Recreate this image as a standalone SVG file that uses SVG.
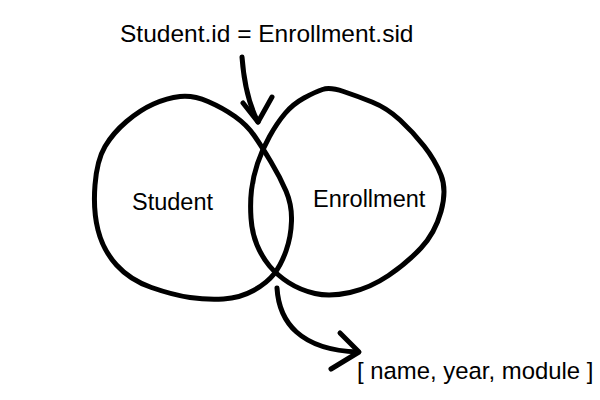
<svg xmlns="http://www.w3.org/2000/svg" width="600" height="400" viewBox="0 0 600 400">
<style>
.ink{fill:none;stroke:#000;stroke-width:5;stroke-linecap:round;stroke-linejoin:round}
.lbl{font-family:"Liberation Sans",Arial,sans-serif;font-size:23.5px;fill:#000}
</style>
<rect width="600" height="400" fill="#fff"/>
<g id="student">
<path class="ink" d="M 208,101.5 Q 223,108 235,116.5 Q 247,125 254.5,136 Q 262,147 271,162 Q 280,177 286,191 Q 292,205 291.5,221 Q 291,237 286,251 Q 281,265 274,274 Q 267,283 253.5,290.5 Q 240,298 223.5,299 Q 207,300 190,297.5 Q 173,295 151.5,287.5 Q 130,280 116.5,265 Q 103,250 98,230 Q 93,210 95,185 Q 97,160 105,146.5 Q 113,133 126.5,121.5 Q 140,110 153.5,104 Q 167,98 180,96.5 Q 193,95 208,101.5 Z"/>
<text class="lbl" x="132" y="210">Student</text>
</g>
<g id="enrollment">
<path class="ink" d="M 322.5,89.5 Q 330,87 343.5,91.5 Q 357,96 372,102 Q 387,108 400,120 Q 413,132 424,146 Q 435,160 441,175 Q 447,190 441,211.5 Q 435,233 421,248 Q 407,263 388.5,275.5 Q 370,288 350,292.5 Q 330,297 315,293.5 Q 300,290 288.5,282.5 Q 277,275 269.5,266 Q 262,257 257,245 Q 252,233 251,218 Q 250,203 251.5,190 Q 253,177 257.5,163.5 Q 262,150 269.5,136.5 Q 277,123 285,113.5 Q 293,104 304,98 Q 315,92 322.5,89.5 Z"/>
<text class="lbl" x="313" y="207">Enrollment</text>
</g>
<g id="condition">
<text class="lbl" x="120" y="42" style="font-size:24.5px">Student.id = Enrollment.sid</text>
</g>
<g id="result">
<text class="lbl" x="357" y="379" style="font-size:23.9px">[ name, year, module ]</text>
</g>
<g id="connectors">
<path class="ink" d="M 242,57 Q 245,97 258,122"/>
<path class="ink" d="M 243,103 L 258,122 L 272,97"/>
<path class="ink" d="M 277,288 C 279,322 300,350 358,352"/>
<path class="ink" d="M 340,333 L 359,352 L 331,369"/>
</g>
</svg>
